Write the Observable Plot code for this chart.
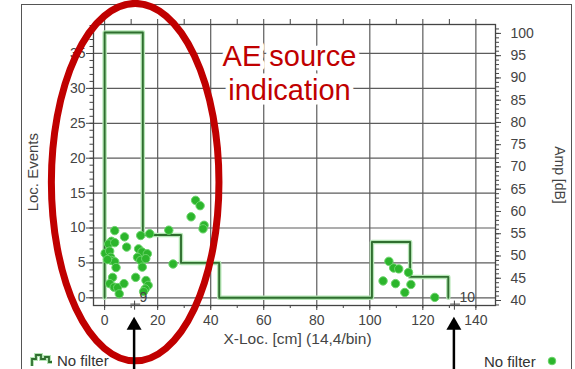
<!DOCTYPE html>
<html><head><meta charset="utf-8">
<script src="https://cdn.jsdelivr.net/npm/d3@7"></script>
<script src="https://cdn.jsdelivr.net/npm/@observablehq/plot@0.6"></script>
<style>
html,body{margin:0;padding:0;background:#fff;}
#wrap{position:relative;width:575px;height:369px;overflow:hidden;font-family:"Liberation Sans",Arial,sans-serif;}
#panel{position:absolute;left:21px;top:4px;width:551px;height:420px;border:1.5px solid #555;box-sizing:border-box;}
#chart{position:absolute;left:0;top:0;}
.leg{position:absolute;font-size:15px;color:#333;white-space:nowrap;line-height:16px;}
</style></head><body>
<div id="wrap">
  <div id="panel"></div>
  <div class="leg" style="left:30px;top:353px;">
    <svg width="24" height="14" style="vertical-align:-1px"><path d="M2,13 V6 H6 V2 H11 V6 H15 V4 H19 V9 H22" fill="none" stroke="#b5e6b5" stroke-width="4"/><path d="M2,13 V6 H6 V2 H11 V6 H15 V4 H19 V9 H22" fill="none" stroke="#2f6e2f" stroke-width="1.8"/></svg><span style="margin-left:3px">No filter</span>
  </div>
  <div class="leg" style="left:484px;top:354px;">No filter <svg width="14" height="12" style="vertical-align:0px;margin-left:6px"><circle cx="6" cy="6" r="3.8" fill="#2cb52c" stroke="#6ad46a" stroke-width="1"/></svg></div>
  <div id="chart"></div>
</div>
<script>
// ---- data ----
const binStart = [0, 14.4, 28.8, 43.2, 57.6, 72, 86.4, 100.8, 115.2];
const binWidth = 14.4;
const binCounts = [38, 9, 5, 0, 0, 0, 0, 8, 3];

const hitX = [3.8, 7.5, 2.6, 1.5, 3.8, 8.3, 0.2, 1.9, 2.3, 2.6, 3.8, 4.3, 1.1, 3.0, 1.9, 3.6, 4.9, 7.3, 5.5, 11.7,
  13.6, 17.0, 12.8, 14.1, 16.1, 12.4, 13.6, 15.5, 14.2, 15.6, 16.4, 15.3, 14.7,
  24.2, 25.8, 32.6, 34.3, 36.0, 37.5, 37.1,
  107.2, 109.0, 110.9, 114.6, 105.0, 109.7, 115.5, 113.2, 124.5];
const hitAmp = [55.7, 54.3, 53.3, 52.7, 53.0, 52.0, 50.6, 51.1, 49.7, 49.0, 48.7, 47.4, 49.2, 45.2, 43.8, 43.0, 42.9, 43.8, 41.5, 45.2,
  54.6, 55.0, 51.6, 50.9, 50.5, 49.7, 49.0, 49.4, 47.5, 44.5, 43.4, 42.6, 42.0,
  55.8, 48.2, 58.8, 62.5, 61.3, 56.9, 56.1,
  48.8, 47.3, 47.1, 46.3, 44.4, 43.8, 43.6, 41.8, 40.7];

const xTicks = [0, 20, 40, 60, 80, 100, 120, 140];
const eventTicks = [0, 5, 10, 15, 20, 25, 30, 35];
const ampTicks = [40, 45, 50, 55, 60, 65, 70, 75, 80, 85, 90, 95, 100];
const markerX = [11.3, 131.9];
const markerLabels = ["9", "10"];

const xLabel = "X-Loc. [cm] (14,4/bin)";
const yLabel = "Loc. Events";
const y2Label = "Amp [dB]";
const noteText = "AE source\nindication";

// ---- scales ----
const xDomain = [-4.2, 147.4];
const yDomain = [-1.1, 39.15];
const ampDomain = [38.88, 102.0];
const amp2ev = a => yDomain[0] + (a - ampDomain[0]) / (ampDomain[1] - ampDomain[0]) * (yDomain[1] - yDomain[0]);
const ev2amp = e => ampDomain[0] + (e - yDomain[0]) / (yDomain[1] - yDomain[0]) * (ampDomain[1] - ampDomain[0]);

const histPts = [{x: binStart[0], y: 0}]
  .concat(binStart.map((b, i) => ({x: b, y: binCounts[i]})))
  .concat([{x: binStart[binStart.length - 1] + binWidth, y: 0}]);
const hits = hitX.map((x, i) => ({x, amp: hitAmp[i]}));
const markers = markerX.map((x, i) => ({x, label: markerLabels[i]}));

const gridC = "#5c5c5c", axC = "#444";
const minorX = d3.range(0, 150, 10);
const minorY = d3.range(0, 40, 1);
const minorAmp = d3.range(39, 102, 1);

const plot = Plot.plot({
  width: 575, height: 369,
  marginLeft: 93, marginRight: 80, marginTop: 24, marginBottom: 64,
  style: {fontFamily: "Liberation Sans, Arial, sans-serif", fontSize: "14px", color: axC, background: "transparent"},
  x: {domain: xDomain},
  y: {domain: yDomain},
  marks: [
    Plot.ruleX(xTicks, {stroke: gridC, strokeWidth: 1.2}),
    Plot.ruleY(eventTicks, {stroke: gridC, strokeWidth: 1.2}),
    Plot.frame({stroke: axC, strokeWidth: 1.3}),
    // annotation text with white backing
    Plot.text([noteText], {x: 69.7, y: 32.3, text: d => d, fontSize: 29, lineHeight: 34/29, fill: "#c00000",
      stroke: "white", strokeWidth: 9, textAnchor: "middle", lineAnchor: "middle"}),
    // histogram outline
    Plot.line(histPts, {x: "x", y: "y", curve: "step-after", stroke: "#b5e6b5", strokeWidth: 4.5}),
    Plot.line(histPts, {x: "x", y: "y", curve: "step-after", stroke: "#2f6e2f", strokeWidth: 1.9}),
    // hits
    Plot.dot(hits, {x: "x", y: d => amp2ev(d.amp), r: 4.2, fill: "#2cb52c", stroke: "#6ad46a", strokeWidth: 1}),
    // axes
    Plot.axisX(xTicks, {anchor: "bottom", tickSize: 5, tickPadding: 5, fontSize: 14, label: null, stroke: axC}),
    Plot.axisX(minorX, {anchor: "bottom", tickSize: 3, tickFormat: () => "", label: null, stroke: axC}),
    Plot.axisX(minorX, {anchor: "top", tickSize: 6, tickFormat: () => "", label: null, stroke: axC}),
    Plot.axisY(eventTicks, {anchor: "left", tickSize: 7, tickPadding: 1, fontSize: 14, label: null, stroke: axC}),
    Plot.axisY(minorY, {anchor: "left", tickSize: 3.5, tickFormat: () => "", label: null, stroke: axC}),
    Plot.axisY(ampTicks.map(amp2ev), {anchor: "right", tickSize: 5, tickPadding: 10, fontSize: 14, label: null, stroke: axC,
      tickFormat: d => String(Math.round(ev2amp(d)))}),
    Plot.axisY(minorAmp.map(amp2ev), {anchor: "right", tickSize: 3, tickFormat: () => "", label: null, stroke: axC}),
    // axis titles
    Plot.text([xLabel], {frameAnchor: "bottom", dx: 3, dy: 38, fontSize: 15.5, fill: axC}),
    Plot.text([yLabel], {x: -26.8, y: 18.0, rotate: -90, fontSize: 15, fill: axC}),
    Plot.text([y2Label], {x: 171.5, y: 17.6, rotate: 90, fontSize: 14, fill: axC}),
    // markers
    Plot.link(markers, {x1: d => d.x - 1.6, x2: d => d.x + 2.1, y1: -0.9, y2: -0.9, stroke: axC, strokeWidth: 1}),
    Plot.link(markers, {x1: "x", x2: "x", y1: -0.4, y2: -1.7, stroke: axC, strokeWidth: 1}),
    Plot.text(markers, {x: "x", y: 0, text: "label", textAnchor: "start", dx: 5, fontSize: 14, fill: axC})
  ]
});
document.getElementById("chart").appendChild(plot);

// ---- hand-drawn annotations, placed via the plot scales ----
const sx = plot.scale("x"), sy = plot.scale("y");
const ell = {cx: 11.7, cy: 16.5, rx: 31.6, ry: 25.6};
const svg = d3.select(plot);
svg.append("ellipse")
  .attr("cx", sx.apply(ell.cx)).attr("cy", sy.apply(ell.cy))
  .attr("rx", sx.apply(ell.cx + ell.rx) - sx.apply(ell.cx))
  .attr("ry", sy.apply(ell.cy) - sy.apply(ell.cy + ell.ry))
  .attr("fill", "none").attr("stroke", "#c00000").attr("stroke-width", 7);
const tipY = sy.apply(-2.8);
for (const m of markers) {
  const px = sx.apply(m.x);
  svg.append("line").attr("x1", px).attr("x2", px).attr("y1", tipY + 12).attr("y2", 369)
    .attr("stroke", "black").attr("stroke-width", 2.5);
  svg.append("path").attr("d", `M${px},${tipY} L${px - 7.5},${tipY + 13} L${px + 7.5},${tipY + 13} Z`).attr("fill", "black");
}
</script>
</body></html>
